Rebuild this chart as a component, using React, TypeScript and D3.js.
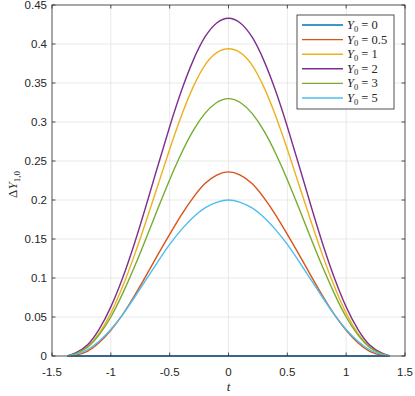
import { useEffect, useRef } from "react";
import * as d3 from "d3";

const tValues = [-1.37, -1.3, -1.2, -1.1, -1.0, -0.9, -0.8, -0.7, -0.6, -0.5, -0.4, -0.3, -0.2, -0.1, 0, 0.1, 0.2, 0.3, 0.4, 0.5, 0.6, 0.7, 0.8, 0.9, 1.0, 1.1, 1.2, 1.3, 1.37];

const y0_0 = [0, 0, 0, 0, 0, 0, 0, 0, 0, 0, 0, 0, 0, 0, 0, 0, 0, 0, 0, 0, 0, 0, 0, 0, 0, 0, 0, 0, 0];
const y0_05 = [0, 0.001, 0.006, 0.017, 0.033, 0.053, 0.077, 0.103, 0.13, 0.156, 0.181, 0.203, 0.221, 0.232, 0.236, 0.232, 0.221, 0.203, 0.181, 0.156, 0.13, 0.103, 0.077, 0.053, 0.033, 0.017, 0.006, 0.001, 0];
const y0_1 = [0, 0.003, 0.012, 0.029, 0.055, 0.089, 0.129, 0.173, 0.219, 0.265, 0.308, 0.345, 0.373, 0.389, 0.394, 0.389, 0.373, 0.345, 0.308, 0.265, 0.219, 0.173, 0.129, 0.089, 0.055, 0.029, 0.012, 0.003, 0];
const y0_2 = [0, 0.004, 0.014, 0.034, 0.063, 0.1, 0.144, 0.193, 0.244, 0.294, 0.34, 0.379, 0.409, 0.427, 0.433, 0.427, 0.409, 0.379, 0.34, 0.294, 0.244, 0.193, 0.144, 0.1, 0.063, 0.034, 0.014, 0.004, 0];
const y0_3 = [0, 0.003, 0.011, 0.027, 0.05, 0.08, 0.114, 0.151, 0.189, 0.226, 0.26, 0.289, 0.311, 0.325, 0.33, 0.325, 0.311, 0.289, 0.26, 0.226, 0.189, 0.151, 0.114, 0.08, 0.05, 0.027, 0.011, 0.003, 0];
const y0_5 = [0, 0.002, 0.008, 0.019, 0.034, 0.053, 0.075, 0.098, 0.121, 0.143, 0.162, 0.178, 0.19, 0.197, 0.2, 0.197, 0.19, 0.178, 0.162, 0.143, 0.121, 0.098, 0.075, 0.053, 0.034, 0.019, 0.008, 0.002, 0];

const seriesLabels = ["0", "0.5", "1", "2", "3", "5"];
const seriesValues = [y0_0, y0_05, y0_1, y0_2, y0_3, y0_5];
const colors = ["#0072BD", "#D95319", "#EDB120", "#7E2F8E", "#77AC30", "#4DBEEE"];

const xTicks = [-1.5, -1, -0.5, 0, 0.5, 1, 1.5];
const yTicks = [0, 0.05, 0.1, 0.15, 0.2, 0.25, 0.3, 0.35, 0.4, 0.45];

export default function App() {
  const svgRef = useRef<SVGSVGElement>(null);
  const width = 415;
  const height = 396;

  useEffect(() => {
    const svg = d3.select(svgRef.current);
    svg.selectAll("*").remove();

    const left = 52, right = 405, top = 5, bottom = 356;
    const x = d3.scaleLinear().domain([-1.5, 1.5]).range([left, right]);
    const y = d3.scaleLinear().domain([0, 0.45]).range([bottom, top]);
    const axisColor = "#262626";
    const tickFont = "'Liberation Sans', Arial, sans-serif";
    const tickLen = 3.5;

    svg.append("rect").attr("x", left).attr("y", top)
      .attr("width", right - left).attr("height", bottom - top).attr("fill", "white");

    // grid
    const grid = svg.append("g").attr("stroke", "#e3e3e3").attr("stroke-width", 0.8);
    xTicks.slice(1, -1).forEach((t) => {
      grid.append("line").attr("x1", x(t)).attr("x2", x(t)).attr("y1", top).attr("y2", bottom);
    });
    yTicks.slice(1, -1).forEach((v) => {
      grid.append("line").attr("x1", left).attr("x2", right).attr("y1", y(v)).attr("y2", y(v));
    });

    // lines
    const lineGen = d3.line<number>()
      .x((_, i) => x(tValues[i]))
      .y((v) => y(Math.max(0, v)))
      .curve(d3.curveNatural);
    seriesValues.forEach((vals, i) => {
      svg.append("path").datum(vals).attr("d", lineGen)
        .attr("fill", "none").attr("stroke", colors[i]).attr("stroke-width", 1.4);
    });

    // box + ticks
    const ax = svg.append("g").attr("stroke", axisColor).attr("stroke-width", 0.8).attr("fill", "none");
    ax.append("rect").attr("x", left).attr("y", top).attr("width", right - left).attr("height", bottom - top);
    xTicks.forEach((t) => {
      ax.append("line").attr("x1", x(t)).attr("x2", x(t)).attr("y1", bottom).attr("y2", bottom - tickLen);
      ax.append("line").attr("x1", x(t)).attr("x2", x(t)).attr("y1", top).attr("y2", top + tickLen);
    });
    yTicks.forEach((v) => {
      ax.append("line").attr("x1", left).attr("x2", left + tickLen).attr("y1", y(v)).attr("y2", y(v));
      ax.append("line").attr("x1", right).attr("x2", right - tickLen).attr("y1", y(v)).attr("y2", y(v));
    });

    // tick labels
    xTicks.forEach((t) => {
      svg.append("text").attr("x", x(t)).attr("y", 376).attr("text-anchor", "middle")
        .attr("font-family", tickFont).attr("font-size", 11.5).attr("fill", axisColor)
        .text(String(t));
    });
    yTicks.forEach((v) => {
      svg.append("text").attr("x", left - 5).attr("y", y(v) + 4).attr("text-anchor", "end")
        .attr("font-family", tickFont).attr("font-size", 11.5).attr("fill", axisColor)
        .text(String(v));
    });

    const serif = "'Liberation Serif', 'DejaVu Serif', serif";
    // x label
    svg.append("text").attr("x", x(0)).attr("y", 391).attr("text-anchor", "middle")
      .attr("font-family", serif).attr("font-style", "italic").attr("font-size", 13)
      .attr("fill", axisColor).text("t");

    // y label
    const yl = svg.append("text").attr("transform", `translate(17,${(top + bottom) / 2 + 4}) rotate(-90)`)
      .attr("text-anchor", "middle").attr("font-family", serif).attr("font-size", 13).attr("fill", axisColor);
    yl.append("tspan").text("Δ");
    yl.append("tspan").attr("font-style", "italic").text("Y");
    yl.append("tspan").attr("font-size", 9).attr("dy", 3).text("1,0");

    // legend
    const lg = svg.append("g");
    const lx = 297, ly = 15, lw = 97, lh = 94;
    lg.append("rect").attr("x", lx).attr("y", ly).attr("width", lw).attr("height", lh)
      .attr("fill", "white").attr("stroke", axisColor).attr("stroke-width", 0.8);
    seriesLabels.forEach((lab, i) => {
      const yy = ly + 10 + i * 14.6;
      lg.append("line").attr("x1", lx + 5).attr("x2", lx + 46).attr("y1", yy).attr("y2", yy)
        .attr("stroke", colors[i]).attr("stroke-width", 1.4);
      const tx = lg.append("text").attr("x", lx + 50).attr("y", yy + 4)
        .attr("font-family", serif).attr("font-size", 12.5).attr("fill", axisColor);
      tx.append("tspan").attr("font-style", "italic").text("Y");
      tx.append("tspan").attr("font-size", 8.5).attr("dy", 2.5).text("0");
      tx.append("tspan").attr("dy", -2.5).text(" = " + lab);
    });
  }, []);

  return (
    <svg ref={svgRef} width={width} height={height}
      style={{ position: "absolute", left: 0, top: 0, background: "white" }} />
  );
}
